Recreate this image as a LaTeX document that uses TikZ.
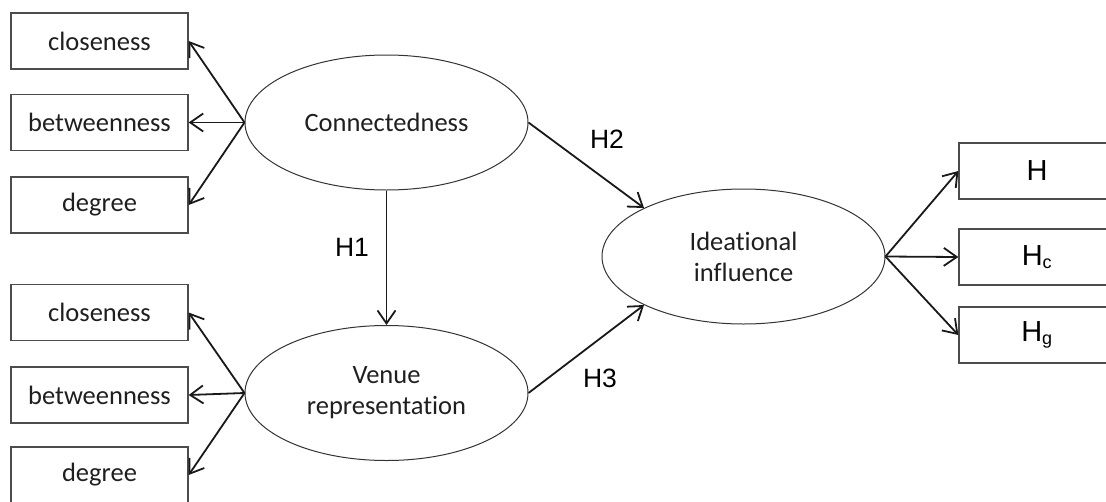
\documentclass[tikz,border=0pt]{standalone}
\usepackage{fontspec}
\setmainfont{Carlito}[RawFeature={-liga;-clig;-dlig}]
\newfontfamily\arialf{Liberation Sans}
\usetikzlibrary{shapes.geometric,arrows.meta}
\begin{document}
\begin{tikzpicture}[x=1pt,y=-1pt,
  txt/.style={font=\fontsize{26.5}{31}\selectfont, text=black!88},
  obs/.style={draw=black!70, line width=1.3pt, minimum width=177pt, minimum height=56pt, inner sep=0pt, txt},
  hbox/.style={draw=black!70, line width=1.3pt, minimum width=156pt, minimum height=56pt, inner sep=0pt, font=\arialf\fontsize{29}{31}\selectfont},
  lat/.style={draw=black!80, line width=1pt, ellipse, minimum width=283pt, minimum height=135pt, inner sep=0pt, align=center, txt},
  hlab/.style={font=\arialf\fontsize{26.5}{30}\selectfont, inner sep=0pt},
  arr/.style={line width=1.8pt, black!90, -{Straight Barb[length=13pt,width=18pt,line width=1.8pt]}}
]
\useasboundingbox (0,0) rectangle (1106,501);
\clip (0,0) rectangle (1106,501);
% latent variables
\node[lat] (C) at (386.5,122.5) {Connectedness};
\node[lat] (V) at (386.5,393) {Venue\\representation};
\node[lat] (I) at (743.5,256.5) {Ideational\\influence};
% indicator boxes
\node[obs] (c1) at (99.5,41) {closeness};
\node[obs] (b1) at (99.5,122.5) {betweenness};
\node[obs] (d1) at (99.5,205) {degree};
\node[obs] (c2) at (99.5,312.5) {closeness};
\node[obs] (b2) at (99.5,395) {betweenness};
\node[obs] (d2) at (99.5,475) {degree};
\node[hbox] (h0) at (1037,171) {H};
\node[hbox] (hc) at (1037,257) {H\textsubscript{\fontsize{18}{18}\selectfont c}};
\node[hbox] (hg) at (1037,335) {H\textsubscript{\fontsize{18}{18}\selectfont g}};
% connectors
\draw[arr] (C.west) -- (c1.east);
\draw[arr] (C.west) -- (b1.east);
\draw[arr] (C.west) -- (d1.east);
\draw[arr] (V.west) -- (c2.east);
\draw[arr] (V.west) -- (b2.east);
\draw[arr] (V.west) -- (d2.east);
\draw[arr] (I.east) -- (h0.west);
\draw[arr] (I.east) -- (hc.west);
\draw[arr] (I.east) -- (hg.west);
\draw[arr] (C.south) -- (V.north);
\draw[arr] (C.east) -- (I.154);
\draw[arr] (V.east) -- (I.206);
% labels
\node[hlab] (l1) at (352,247) {H1};
\node[hlab] (l2) at (607,139) {H2};
\node[hlab] (l3) at (600,378) {H3};
\end{tikzpicture}
\end{document}
